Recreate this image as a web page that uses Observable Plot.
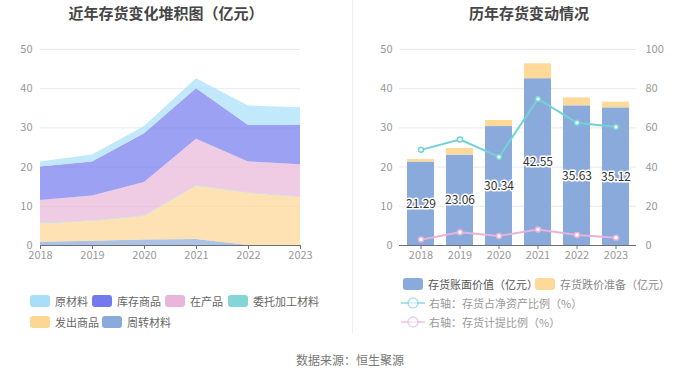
<!DOCTYPE html>
<html><head><meta charset="utf-8">
<script src="https://cdn.jsdelivr.net/npm/d3@7"></script>
<script src="https://cdn.jsdelivr.net/npm/@observablehq/plot@0.6"></script>
<style>
body{margin:0;background:#fff;font-family:"Noto Sans CJK SC","Noto Sans",sans-serif;}
#root{position:relative;width:700px;height:377px;overflow:hidden;background:#fff;}
.abs{position:absolute;}
.title{font-size:15px;font-weight:bold;color:#464646;white-space:nowrap;transform:translateX(-50%);}
.leg{position:absolute;display:flex;align-items:center;font-size:11px;color:#666;white-space:nowrap;}
.sw{width:20px;height:12px;border-radius:3px;margin-right:5px;}
</style></head>
<body><div id="root"></div>
<script>
// ---------- data ----------
const years = [2018, 2019, 2020, 2021, 2022, 2023];
// left chart categories (legend order)
const legendCats = ["原材料", "库存商品", "在产品", "委托加工材料", "发出商品", "周转材料"];
const catColors = ["#a8defa", "#7479f0", "#e9b6d9", "#83d5d8", "#fed694", "#89a9db"];
// stacked from bottom up
const stackOrder = ["周转材料", "发出商品", "委托加工材料", "在产品", "库存商品", "原材料"];
const rawMaterial = [1.29, 1.76, 1.84, 2.55, 4.93, 4.42];     // 原材料
const finishedGoods = [8.5, 8.7, 12.4, 12.9, 9.3, 10.1];     // 库存商品
const wip = [5.85, 6.35, 8.55, 11.85, 7.9, 8.25];            // 在产品
const consigned = [0.15, 0.15, 0.15, 0.15, 0.1, 0.1];        // 委托加工材料
const shipped = [4.65, 5.0, 6.0, 13.6, 13.33, 12.25];        // 发出商品
const turnover = [0.85, 1.1, 1.4, 1.5, 0, 0];                // 周转材料

// right chart
const bookValue = [21.29, 23.06, 30.34, 42.55, 35.63, 35.12];   // 存货账面价值（亿元）
const impairment = [0.65, 1.68, 1.55, 3.8, 2.04, 1.44];        // 存货跌价准备（亿元）
const ratioNetAssets = [48.8, 54.1, 45.2, 74.8, 62.6, 60.4];   // 存货占净资产比例（%）
const ratioProvision = [3.0, 6.8, 4.9, 8.2, 5.4, 3.9];         // 存货计提比例（%）
const leftTicks = [0, 10, 20, 30, 40, 50];
const rightTicks = [0, 20, 40, 60, 80, 100];
const barSeries = ["存货账面价值（亿元）", "存货跌价准备（亿元）"];
const barColors = ["#8aaadc", "#fed99a"];
const lineSeries = ["右轴：存货占净资产比例（%）", "右轴：存货计提比例（%）"];
const lineColors = ["#74d2d5", "#e8b3d8"];

// ---------- build ----------
const root = document.getElementById("root");
const font = '"Noto Sans CJK SC","Noto Sans",sans-serif';
const axisColor = "#6e7079";
const labelColor = "#999";
const gridColor = "#e6e9f2";

const seriesMap = {"原材料": rawMaterial, "库存商品": finishedGoods, "在产品": wip,
  "委托加工材料": consigned, "发出商品": shipped, "周转材料": turnover};
const areaRows = [];
for (const c of stackOrder) years.forEach((y, i) => areaRows.push({year: y, cat: c, value: seriesMap[c][i]}));

const left = Plot.plot({
  width: 350, height: 270, marginTop: 49, marginBottom: 25, marginLeft: 40, marginRight: 50,
  style: {fontFamily: font, fontSize: "11px", background: "transparent"},
  x: {type: "linear", domain: [2018, 2023]},
  y: {domain: [0, 50]},
  color: {domain: legendCats, range: catColors},
  marks: [
    Plot.gridY(leftTicks.slice(1), {stroke: gridColor, strokeOpacity: 1}),
    Plot.areaY(areaRows, {x: "year", y: "value", z: "cat", fill: "cat", fillOpacity: 0.7, order: stackOrder, curve: "linear"}),
    Plot.ruleY([0], {stroke: axisColor}),
    Plot.axisY(leftTicks, {tickSize: 0, tickPadding: 8, color: labelColor, label: null}),
    Plot.axisX(years, {tickSize: 4, tickPadding: 2, stroke: axisColor, color: labelColor, tickFormat: d => String(d), label: null})
  ]
});
left.style.position = "absolute"; left.style.left = "0px"; left.style.top = "0px";
root.appendChild(left);

const barRows = [];
years.forEach((y, i) => {
  barRows.push({year: String(y), s: barSeries[0], value: bookValue[i]});
  barRows.push({year: String(y), s: barSeries[1], value: impairment[i]});
});
const yrs = years.map(String);
const lineRows = years.map((y, i) => ({year: String(y), a: ratioNetAssets[i], b: ratioProvision[i], book: bookValue[i]}));

const right = Plot.plot({
  width: 350, height: 270, marginTop: 49, marginBottom: 25, marginLeft: 49, marginRight: 64,
  style: {fontFamily: font, fontSize: "11px", background: "transparent"},
  x: {type: "band", domain: yrs, paddingInner: 0.32, paddingOuter: 0.16},
  y: {domain: [0, 50]},
  color: {domain: barSeries, range: barColors},
  marks: [
    Plot.gridY(leftTicks.slice(1), {stroke: gridColor, strokeOpacity: 1}),
    Plot.barY(barRows, {x: "year", y: "value", fill: "s", order: barSeries}),
    Plot.line(lineRows, {x: "year", y: d => d.b / 2, stroke: lineColors[1], strokeWidth: 2}),
    Plot.dot(lineRows, {x: "year", y: d => d.b / 2, stroke: lineColors[1], fill: "white", r: 2.5, strokeWidth: 1.5}),
    Plot.line(lineRows, {x: "year", y: d => d.a / 2, stroke: lineColors[0], strokeWidth: 2}),
    Plot.dot(lineRows, {x: "year", y: d => d.a / 2, stroke: lineColors[0], fill: "white", r: 2.5, strokeWidth: 1.5}),
    Plot.text(lineRows, {x: "year", y: d => d.book / 2, text: d => d.book.toFixed(2), fill: "#333", stroke: "white", strokeWidth: 3, fontSize: 12}),
    Plot.ruleY([0], {stroke: axisColor}),
    Plot.axisY(leftTicks, {tickSize: 0, tickPadding: 7, color: labelColor, label: null}),
    Plot.axisY(rightTicks.map(d => d / 2), {anchor: "right", tickSize: 0, tickPadding: 9, color: labelColor, label: null, tickFormat: d => String(d * 2)}),
    Plot.axisX({tickSize: 4, tickPadding: 2, stroke: axisColor, color: labelColor, label: null})
  ]
});
right.style.position = "absolute"; right.style.left = "350px"; right.style.top = "0px";
root.appendChild(right);

// separator
const sep = document.createElement("div");
sep.className = "abs";
Object.assign(sep.style, {left: "352px", top: "0px", width: "1px", height: "333px", background: "#eeeeee"});
root.appendChild(sep);

// titles
function addText(txt, x, y, cls, extra) {
  const d = document.createElement("div");
  d.className = "abs " + cls; d.textContent = txt;
  d.style.left = x + "px"; d.style.top = y + "px";
  if (extra) Object.assign(d.style, extra);
  root.appendChild(d); return d;
}
addText("近年存货变化堆积图（亿元）", 166, 2, "title");
addText("历年存货变动情况", 529, 2, "title");
const foot = addText("数据来源：恒生聚源", 350, 351, "", {fontSize: "12px", color: "#777", transform: "translateX(-50%)", whiteSpace: "nowrap"});

// left legend
const leftLegPos = [[30, 301], [92, 301], [165, 301], [228, 301], [30, 322], [102, 322]];
legendCats.forEach((c, i) => {
  const d = document.createElement("div");
  d.className = "leg";
  d.style.left = leftLegPos[i][0] + "px"; d.style.top = (leftLegPos[i][1] - 8) + "px";
  d.innerHTML = `<div class="sw" style="background:${catColors[i]}"></div><span>${c}</span>`;
  root.appendChild(d);
});
// right legend
const rightLegPos = [[403, 284], [535, 284]];
barSeries.forEach((c, i) => {
  const d = document.createElement("div");
  d.className = "leg";
  d.style.left = rightLegPos[i][0] + "px"; d.style.top = (rightLegPos[i][1] - 8) + "px";
  d.style.color = i === 0 ? "#555" : "#888";
  d.innerHTML = `<div class="sw" style="background:${barColors[i]}"></div><span>${c}</span>`;
  root.appendChild(d);
});
const lineLegY = [303, 322];
lineSeries.forEach((c, i) => {
  const d = document.createElement("div");
  d.className = "leg";
  d.style.left = "401px"; d.style.top = (lineLegY[i] - 8) + "px";
  d.style.color = "#999";
  d.innerHTML = `<svg width="24" height="16" style="margin-right:4px"><line x1="0" x2="24" y1="8" y2="8" stroke="${lineColors[i]}" stroke-width="2" opacity="0.6"/><circle cx="12" cy="8" r="5" fill="white" stroke="${lineColors[i]}" stroke-width="1.5" opacity="0.6"/></svg><span>${c}</span>`;
  root.appendChild(d);
});
</script></body></html>
